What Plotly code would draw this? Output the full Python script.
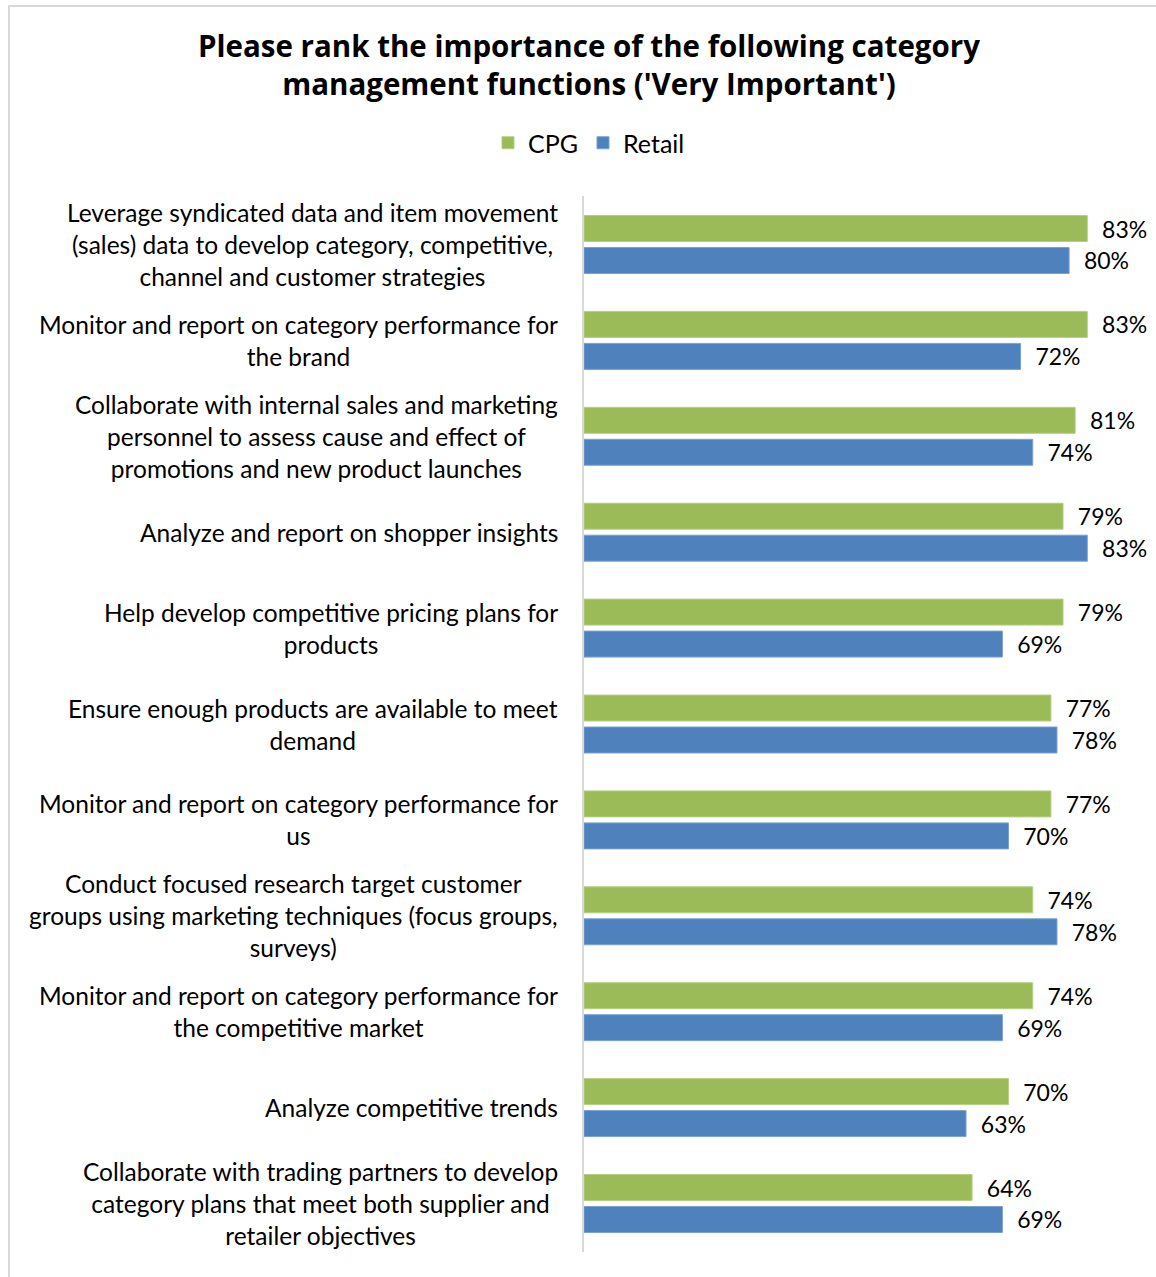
import plotly.graph_objects as go

categories = [
    "Leverage syndicated data and item movement<br>(sales) data to develop category, competitive,<br>channel and customer strategies",
    "Monitor and report on category performance for<br>the brand",
    "Collaborate with internal sales and marketing<br>personnel to assess cause and effect of<br>promotions and new product launches",
    "Analyze and report on shopper insights",
    "Help develop competitive pricing plans for<br>products",
    "Ensure enough products are available to meet<br>demand",
    "Monitor and report on category performance for<br>us",
    "Conduct focused research target customer<br>groups using marketing techniques (focus groups,<br>surveys)",
    "Monitor and report on category performance for<br>the competitive market",
    "Analyze competitive trends",
    "Collaborate with trading partners to develop<br>category plans that meet both supplier and<br>retailer objectives",
]
cpg = [83, 83, 81, 79, 79, 77, 77, 74, 74, 70, 64]
retail = [80, 72, 74, 83, 69, 78, 70, 78, 69, 63, 69]

GREEN = "#9BBB59"
BLUE = "#4F81BD"
FONT = "Lato"
TITLE_FONT = "Open Sans"

W, H = 1156, 1277
L, R, T, B = 584, 2, 196, 25
plot_w = W - L - R
plot_h = H - T - B

fig = go.Figure()
for name, vals, col, edge in [("CPG", cpg, GREEN, "#b5cf82"), ("Retail", retail, BLUE, "#7aa0d0")]:
    fig.add_trace(go.Bar(
        name=name, y=categories, x=vals, orientation="h",
        marker=dict(color=col, line=dict(color=edge, width=1)),
        texttemplate="\u00a0\u00a0%{x}%", textposition="outside", cliponaxis=False,
        constraintext="none",
        textfont=dict(family=FONT, size=23, color="#000000"),
        hoverinfo="skip",
    ))

annotations = []
for c in categories:
    annotations.append(dict(
        x=0, xref="paper", y=c, yref="y", text=c, showarrow=False,
        xanchor="right", yanchor="middle", align="center", xshift=-24,
        font=dict(family=FONT, size=24.5, color="#000000"),
    ))

px_x = lambda p: (p - L) / plot_w
px_y = lambda p: (H - B - p) / plot_h

shapes = [
    dict(type="line", xref="paper", yref="paper", x0=px_x(9), x1=px_x(9), y0=px_y(1290), y1=px_y(6),
         line=dict(color="#d9d9d9", width=2)),
    dict(type="line", xref="paper", yref="paper", x0=px_x(8), x1=px_x(1170), y0=px_y(6), y1=px_y(6),
         line=dict(color="#d9d9d9", width=2)),
]

fig.update_layout(
    width=W, height=H,
    margin=dict(l=L, r=R, t=T, b=B),
    paper_bgcolor="white", plot_bgcolor="white",
    barmode="group", bargap=0.333, bargroupgap=0.1875,
    title=dict(
        text="<b>Please rank the importance of the following category<br>management functions ('Very Important')</b>",
        x=589 / W, xanchor="center",
        y=1 - 57 / H, yanchor="middle", yref="container",
        font=dict(family=TITLE_FONT, size=29.5, color="#000000"),
    ),
    legend=dict(
        orientation="h", x=(589 - L) / plot_w, xanchor="center",
        y=px_y(143), yanchor="middle",
        font=dict(family=FONT, size=25, color="#000000"),
        traceorder="normal",
    ),
    xaxis=dict(range=[0, 94], showticklabels=False, showgrid=False, zeroline=False, showline=False),
    yaxis=dict(autorange="reversed", showticklabels=False, showgrid=False, zeroline=False,
               showline=True, linecolor="#d9d9d9", linewidth=2, ticks=""),
    annotations=annotations,
    shapes=shapes,
    showlegend=True,
)

fig.write_html("out.html", config={"displayModeBar": False},
               post_script="document.body.style.margin='0';")
